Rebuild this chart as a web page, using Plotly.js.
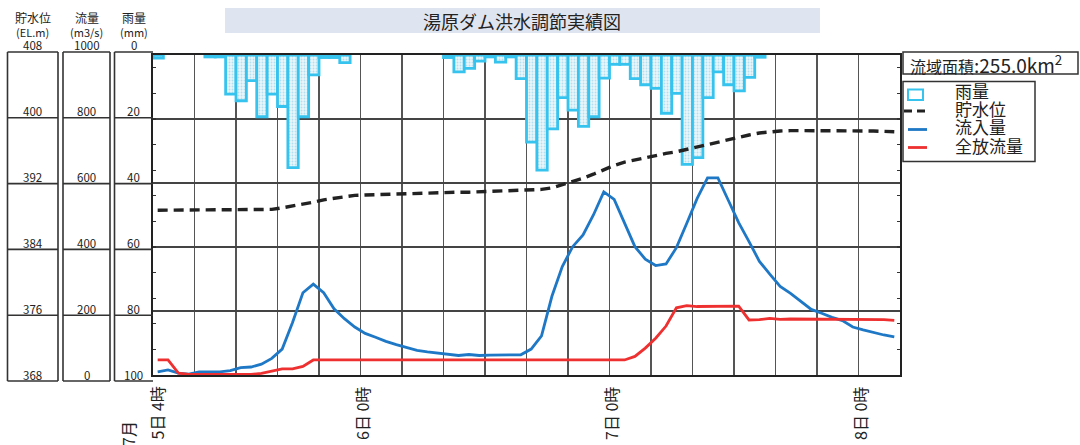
<!DOCTYPE html>
<html><head><meta charset="utf-8">
<script src="https://cdn.plot.ly/plotly-3.0.1.min.js"></script>
<style>html,body{margin:0;padding:0;background:#fff}#chart{width:1080px;height:445px}</style>
</head><body><div id="chart"></div>
<script>
// ---- data ----
const titleText = '湯原ダム洪水調節実績図';
const areaText = '流域面積';
const areaValue = ':255.0km<sup>2</sup>';
const hours = [0,1,2,3,4,5,6,7,8,9,10,11,12,13,14,15,16,17,18,19,20,21,22,23,24,25,26,27,28,29,30,31,32,33,34,35,36,37,38,39,40,41,42,43,44,45,46,47,48,49,50,51,52,53,54,55,56,57,58,59,60,61,62,63,64,65,66,67,68,69,70,71];
const level = [388.6,388.6,388.6,388.6,388.6,388.6,388.6,388.6,388.6,388.6,388.6,388.7,388.9,389.1,389.4,389.6,389.9,390.1,390.3,390.45,390.5,390.55,390.6,390.65,390.7,390.7,390.75,390.8,390.8,390.85,390.85,390.9,390.9,390.9,390.95,391.0,391.05,391.2,391.4,391.8,392.1,392.6,393.1,393.7,394.2,394.6,394.9,395.2,395.5,395.7,395.9,396.2,396.5,396.8,397.2,397.5,397.8,398.0,398.25,398.4,398.5,398.55,398.55,398.6,398.6,398.6,398.6,398.55,398.5,398.5,398.45,398.4];
const inflow = [10,16,6,3,10,10,10,14,23,25,34,52,81,164,257,284,257,207,176,150,130,118,105,95,85,77,72,68,65,61,64,61,62,62,62,63,81,122,246,339,401,438,500,572,549,474,401,362,342,347,398,474,552,616,616,546,476,417,355,315,277,255,230,205,193,180,170,150,141,132,125,119];
const outflow = [47,47,6,2,2,2,2,2,2,2,5,12,19,19,27,47,47,47,47,47,47,47,47,47,47,47,47,47,47,47,47,47,47,47,47,47,47,47,47,47,47,47,47,47,47,47,58,84,115,153,210,217,214,214,216,215,215,172,173,177,174,175,175,175,175,175,175,175,174,174,173,171];
const rainHours = [0,5,6,7,8,9,10,11,12,13,14,15,16,17,18,28,29,30,31,32,33,34,35,36,37,38,39,40,41,42,43,44,45,46,47,48,49,50,51,52,53,54,55,56,57,58];
const rainValues = [1,0.6,0.6,12.2,14.3,8,19.3,12.2,16.1,35.2,19.3,6.2,0.8,0.8,2.4,0.8,5.3,4.2,1.9,0.6,2.2,0.6,7.4,27.2,36,23.1,13.3,17.2,22.3,19.3,7.2,2.9,2.9,7.4,9.3,10.4,18.2,12,34.2,32.1,13.3,5.3,9.3,11.2,7,0.7];
const xLabelHours = [0,20,44,68];
const xLabels = ['5日 4時','6日 0時','7日 0時','8日 0時'];
const monthLabel = '7月';
const elTicks = [408,400,392,384,376,368];
const flowTicks = [1000,800,600,400,200,0];
const rainTicks = [0,20,40,60,80,100];
const axisHeads = [['貯水位','(EL.m)'],['流量','(m3/s)'],['雨量','(mm)']];
const seriesNames = ['雨量','貯水位','流入量','全放流量'];
const rainMinorTicks = [4,12,20,28,36,44,52,60,68,76,84,92];

// ---- geometry helpers (px -> paper) ----
const W=1080,H=445, L=153, R=180, T=55, B=70;
const pw=W-L-R, ph=H-T-B;
const px2x = p => (p-L)/pw;
const px2y = p => (H-B-p)/ph;
const FONT = '"Noto Sans CJK JP", "Noto Sans", sans-serif';
const BLUE='#1f78c6', RED='#ee3030', CYAN='#36c3ee';

const lineX = hours.map(h=>h+0.45);
const rainX = rainHours.map(h=>h+0.5);

const traces = [
  {type:'bar', x:rainX, y:rainValues, yaxis:'y2', width:1, name:seriesNames[0], showlegend:false,
   marker:{color:'#e2f3f9', line:{color:CYAN,width:2.8},
     pattern:{shape:'.', fgcolor:'#b5dfee', bgcolor:'#eaf7fb', size:3, solidity:0.3}}},
  {type:'scatter', mode:'lines', x:lineX, y:level, yaxis:'y3', name:seriesNames[1], showlegend:false,
   line:{color:'#222', width:3.4, dash:'10px,6px'}},
  {type:'scatter', mode:'lines', x:lineX, y:inflow, yaxis:'y', name:seriesNames[2], showlegend:false,
   line:{color:BLUE, width:2.8}},
  {type:'scatter', mode:'lines', x:lineX, y:outflow, yaxis:'y', name:seriesNames[3], showlegend:false,
   line:{color:RED, width:2.8}}
];

const shapes=[], annotations=[];
// title box
shapes.push({type:'rect',xref:'paper',yref:'paper',x0:px2x(225),x1:px2x(820),y0:px2y(8),y1:px2y(33),
  fillcolor:'#dfe5f0',line:{width:0},layer:'below'});
annotations.push({xref:'paper',yref:'paper',x:px2x(522),y:px2y(21),text:titleText,showarrow:false,
  font:{family:FONT,size:18,color:'#222'},xanchor:'center',yanchor:'middle'});

// left axis panels
const cols=[[7.5,58],[63,110],[114.5,153]];
const tickSets=[elTicks,flowTicks,rainTicks];
const panelTop=52, panelStep=65.8;
cols.forEach((c,ci)=>{
  for(let k=0;k<6;k++){
    const yy=panelTop+k*panelStep;
    shapes.push({type:'line',xref:'paper',yref:'paper',x0:px2x(c[0]),x1:px2x(c[1]),y0:px2y(yy),y1:px2y(yy),
      line:{color:'#333',width:1.6}});
    annotations.push({xref:'paper',yref:'paper',x:px2x((c[0]+c[1])/2),y:px2y(yy-6.5),text:String(tickSets[ci][k]),
      showarrow:false,xanchor:'center',yanchor:'middle',font:{family:FONT,size:11.5,color:'#222'}});
  }
  shapes.push({type:'line',xref:'paper',yref:'paper',x0:px2x(c[0]),x1:px2x(c[0]),y0:px2y(panelTop),y1:px2y(panelTop+5*panelStep),line:{color:'#333',width:1.6}});
  if(ci<2) shapes.push({type:'line',xref:'paper',yref:'paper',x0:px2x(c[1]),x1:px2x(c[1]),y0:px2y(panelTop),y1:px2y(panelTop+5*panelStep),line:{color:'#333',width:1.6}});
  annotations.push({xref:'paper',yref:'paper',x:px2x((c[0]+c[1])/2),y:px2y(18),text:axisHeads[ci][0],showarrow:false,
    xanchor:'center',yanchor:'middle',font:{family:FONT,size:12,color:'#222'}});
  annotations.push({xref:'paper',yref:'paper',x:px2x((c[0]+c[1])/2),y:px2y(32),text:axisHeads[ci][1],showarrow:false,
    xanchor:'center',yanchor:'middle',font:{family:FONT,size:11,color:'#222'}});
});

// x labels
xLabelHours.forEach((h,i)=>{
  annotations.push({xref:'x',yref:'paper',x:h,y:px2y(385),text:xLabels[i],textangle:-90,showarrow:false,
    xanchor:'center',yanchor:'top',xshift:(i===0?3:1),font:{family:FONT,size:16,color:'#222'}});
});
annotations.push({xref:'paper',yref:'paper',x:px2x(127.5),y:px2y(419),text:monthLabel,textangle:-90,showarrow:false,
  xanchor:'center',yanchor:'top',font:{family:FONT,size:16,color:'#222'}});

// area box
shapes.push({type:'rect',xref:'paper',yref:'paper',x0:px2x(903),x1:px2x(1078),y0:px2y(52),y1:px2y(74),
  fillcolor:'#fff',line:{color:'#333',width:1.5}});
annotations.push({xref:'paper',yref:'paper',x:px2x(908),y:px2y(63.5),text:areaText+'<span style="font-size:19px">'+areaValue+'</span>',
  showarrow:false,xanchor:'left',yanchor:'middle',font:{family:FONT,size:16,color:'#222'}});

// legend box (manual)
shapes.push({type:'rect',xref:'paper',yref:'paper',x0:px2x(903),x1:px2x(1035),y0:px2y(81.5),y1:px2y(161.5),
  fillcolor:'#fff',line:{color:'#333',width:1.5}});
const rowY=[92.5,111,129.5,147.5];
shapes.push({type:'rect',xref:'paper',yref:'paper',x0:px2x(908),x1:px2x(923),y0:px2y(89.5),y1:px2y(100),
  fillcolor:'#fff',line:{color:CYAN,width:2}});
shapes.push({type:'line',xref:'paper',yref:'paper',x0:px2x(904),x1:px2x(927),y0:px2y(rowY[1]),y1:px2y(rowY[1]),
  line:{color:'#222',width:3,dash:'8px,5px'}});
shapes.push({type:'line',xref:'paper',yref:'paper',x0:px2x(908),x1:px2x(927),y0:px2y(rowY[2]),y1:px2y(rowY[2]),
  line:{color:BLUE,width:2.8}});
shapes.push({type:'line',xref:'paper',yref:'paper',x0:px2x(908),x1:px2x(927),y0:px2y(rowY[3]),y1:px2y(rowY[3]),
  line:{color:RED,width:2.8}});
annotations.push({xref:'paper',yref:'paper',x:px2x(953),y:px2y((rowY[0]+rowY[3])/2-2),
  text:seriesNames.map(n=>'<span style="font-size:17px">'+n+'</span>').join('<br>'),showarrow:false,
  align:'left',xanchor:'left',yanchor:'middle',font:{family:FONT,size:14,color:'#222'}});

const layout = {
  width:W,height:H,margin:{l:L,r:R,t:T,b:B,pad:0},
  paper_bgcolor:'#fff',plot_bgcolor:'#fff',
  font:{family:FONT,color:'#222'},
  showlegend:false,
  xaxis:{range:[0,72],dtick:4,tick0:0,showgrid:true,gridcolor:'#555',gridwidth:1.2,showticklabels:false,
    ticks:'',zeroline:false,showline:true,linecolor:'#222',linewidth:1.6,mirror:true},
  yaxis:{range:[0,1000],dtick:200,showgrid:true,gridcolor:'#444',gridwidth:1.2,showticklabels:false,
    ticks:'',zeroline:false,showline:true,linecolor:'#222',linewidth:1.6,mirror:true},
  yaxis2:{range:[100,0],overlaying:'y',showgrid:false,zeroline:false,showticklabels:false,
    tickvals:rainMinorTicks,ticks:'inside',ticklen:3,tickwidth:1.2,tickcolor:'#333',mirror:'ticks',side:'left'},
  yaxis3:{range:[368,408],overlaying:'y',showgrid:false,zeroline:false,showticklabels:false,ticks:'',side:'right'},
  shapes:shapes, annotations:annotations, bargap:0
};
Plotly.newPlot('chart', traces, layout, {displayModeBar:false, staticPlot:true});
</script></body></html>
